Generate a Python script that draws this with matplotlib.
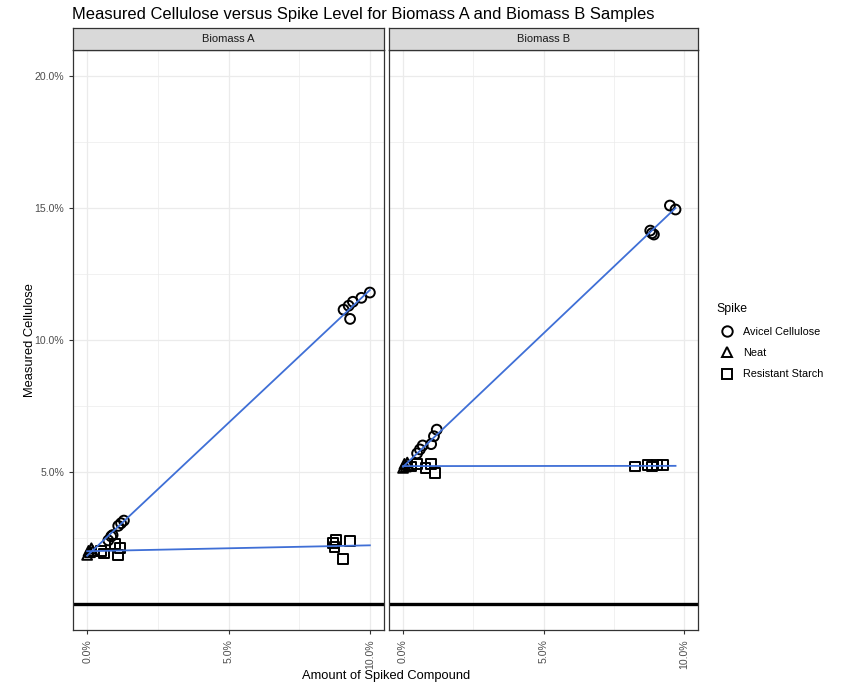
import numpy as np
import matplotlib
matplotlib.use("Agg")
import matplotlib.pyplot as plt
from matplotlib.lines import Line2D
from matplotlib.ticker import FixedLocator, FuncFormatter

plt.rcParams['font.family'] = ['Liberation Sans', 'DejaVu Sans']

panels = ["Biomass A", "Biomass B"]
spikes = ["Avicel Cellulose", "Neat", "Resistant Starch"]

# Biomass A (spike %, measured %)
a_avicel_x = [0.75, 0.85, 0.9, 1.1, 1.2, 1.3, 9.07, 9.25, 9.4, 9.3, 9.7, 10.0]
a_avicel_y = [2.4, 2.55, 2.6, 2.95, 3.05, 3.15, 11.15, 11.3, 11.45, 10.8, 11.6, 11.8]
a_neat_x = [0.0, 0.05, 0.1, 0.15, 0.2]
a_neat_y = [1.85, 2.0, 1.95, 2.1, 2.0]
a_starch_x = [0.5, 0.6, 1.0, 1.1, 1.15, 8.7, 8.75, 8.8, 9.3, 9.05]
a_starch_y = [2.0, 1.9, 2.25, 1.85, 2.1, 2.3, 2.15, 2.4, 2.38, 1.7]

# Biomass B
b_avicel_x = [0.5, 0.6, 0.7, 1.0, 1.1, 1.2, 8.8, 8.86, 8.93, 9.5, 9.7]
b_avicel_y = [5.7, 5.85, 6.0, 6.05, 6.35, 6.6, 14.15, 14.05, 14.0, 15.1, 14.95]
b_neat_x = [0.0, 0.05, 0.1, 0.15, 0.2]
b_neat_y = [5.15, 5.3, 5.2, 5.35, 5.25]
b_starch_x = [0.3, 0.5, 0.8, 1.0, 1.15, 8.25, 8.7, 8.85, 9.05, 9.25]
b_starch_y = [5.2, 5.3, 5.15, 5.3, 4.95, 5.2, 5.25, 5.2, 5.25, 5.25]

data = {
    "Biomass A": {"Avicel Cellulose": (a_avicel_x, a_avicel_y),
                  "Neat": (a_neat_x, a_neat_y),
                  "Resistant Starch": (a_starch_x, a_starch_y)},
    "Biomass B": {"Avicel Cellulose": (b_avicel_x, b_avicel_y),
                  "Neat": (b_neat_x, b_neat_y),
                  "Resistant Starch": (b_starch_x, b_starch_y)},
}

markers = {"Avicel Cellulose": "o", "Neat": "^", "Resistant Starch": "s"}

W, H = 846, 684
fig = plt.figure(figsize=(W / 100, H / 100), dpi=100)

def px_axes(x0, y0, x1, y1):
    return fig.add_axes([x0 / W, 1 - y1 / H, (x1 - x0) / W, (y1 - y0) / H])

pct = FuncFormatter(lambda v, p: "%.1f%%" % v)
line_col = "#3F6FD6"
grid_col = "#EBEBEB"
frame_col = "#333333"
text_col = "#4D4D4D"

panel_px = [(73, 384), (389, 698)]
for i, name in enumerate(panels):
    x0, x1 = panel_px[i]
    ax = px_axes(x0, 50, x1, 630)
    ax.set_xlim(-0.5, 10.5)
    ax.set_ylim(-1, 21)
    ax.xaxis.set_major_locator(FixedLocator([0, 5, 10]))
    ax.xaxis.set_minor_locator(FixedLocator([2.5, 7.5]))
    ax.yaxis.set_major_locator(FixedLocator([5, 10, 15, 20]))
    ax.yaxis.set_minor_locator(FixedLocator([2.5, 7.5, 12.5, 17.5]))
    ax.grid(True, which="major", color=grid_col, lw=0.9)
    ax.grid(True, which="minor", color=grid_col, lw=0.5)
    ax.set_axisbelow(True)
    ax.xaxis.set_major_formatter(pct)
    ax.yaxis.set_major_formatter(pct)
    ax.tick_params(which="minor", length=0)
    ax.tick_params(which="major", length=3, color=frame_col, labelcolor=text_col,
                   labelsize=7.6, width=0.8)
    ax.tick_params(axis="x", labelrotation=90)
    if i > 0:
        ax.tick_params(axis="y", left=False, labelleft=False)
    for s in ax.spines.values():
        s.set_color(frame_col)
        s.set_linewidth(0.9)

    ax.axhline(0, color="black", lw=2.4, zorder=2)

    groups = data[name]
    nx, ny = groups["Neat"]
    xmax = max(max(v[0]) for v in groups.values())
    for sp in ["Avicel Cellulose", "Resistant Starch"]:
        gx = np.array(list(groups[sp][0]) + list(nx))
        gy = np.array(list(groups[sp][1]) + list(ny))
        k, b = np.polyfit(gx, gy, 1)
        xs = np.array([0, xmax])
        ax.plot(xs, k * xs + b, color=line_col, lw=1.3, zorder=4)

    for sp in spikes:
        gx, gy = groups[sp]
        ax.scatter(gx, gy, marker=markers[sp], s=50, facecolors="none",
                   edgecolors="black", linewidths=1.4, zorder=3)

    # strip
    sax = px_axes(x0, 28, x1, 50)
    sax.set_xticks([])
    sax.set_yticks([])
    sax.set_facecolor("#D9D9D9")
    for s in sax.spines.values():
        s.set_color(frame_col)
        s.set_linewidth(0.9)
    sax.text(0.5, 0.5, name, ha="center", va="center", fontsize=8,
             color="#1A1A1A", transform=sax.transAxes)

fig.text(72 / W, 1 - 14 / H, "Measured Cellulose versus Spike Level for Biomass A and Biomass B Samples",
         ha="left", va="center", fontsize=11.9, color="black")
fig.text(30 / W, 1 - 340 / H, "Measured Cellulose", rotation=90, ha="center", va="center",
         fontsize=9.3, color="black")
fig.text(386 / W, 1 - 676 / H, "Amount of Spiked Compound", ha="center", va="center",
         fontsize=9.3, color="black")

handles = [Line2D([], [], marker=markers[sp], linestyle="none", markerfacecolor="none",
                  markeredgecolor="black", markeredgewidth=1.4, markersize=7.5)
           for sp in spikes]
leg = fig.legend(handles, spikes, title="Spike", loc="upper left",
                 bbox_to_anchor=(712 / W, 1 - 299 / H), frameon=False,
                 fontsize=7.8, title_fontsize=8.8, handletextpad=0.5,
                 labelspacing=1.05, borderaxespad=0)
leg._legend_box.align = "left"

fig.savefig("out.png", dpi=100)
